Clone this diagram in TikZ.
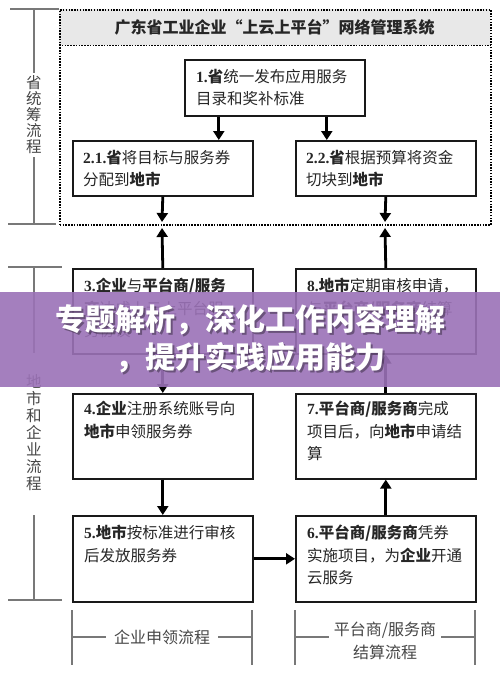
\documentclass[tikz,border=0pt]{standalone}
\usepackage{fontspec}
\setmainfont{Noto Sans CJK SC}
\newfontfamily\numf{Liberation Serif}
\usetikzlibrary{arrows.meta}
\definecolor{brkc}{RGB}{120,120,120}
\definecolor{lblc}{RGB}{70,70,70}
\definecolor{hdrc}{RGB}{232,232,232}
\definecolor{bandc}{RGB}{155,114,183}
\newcommand{\nm}[1]{{\numf\bfseries #1}}
\newcommand{\hb}[1]{{\bfseries #1}}
\tikzset{
 box/.style={draw=black!90, line width=1.6pt, minimum width=180pt, inner sep=0pt, anchor=north west},
 btxt/.style={anchor=north west, inner sep=0pt, align=left, font=\fontsize{15.5}{22.5}\selectfont, text=black!85},
 arr/.style={line width=2.8pt, -{Triangle[width=11pt,length=9pt]}},
 brk/.style={draw=brkc, line width=1.2pt},
 vlbl/.style={text=lblc, align=center, font=\fontsize{15.5}{16}\selectfont, inner sep=0pt},
 dotl/.style={line width=1.6pt, dash pattern=on 1.5pt off 1.3pt},
}
\begin{document}
\begin{tikzpicture}[x=1pt,y=-1pt]
\useasboundingbox (0,0) rectangle (500,681);
\fill[white] (0,0) rectangle (500,681);
% header
\node[fill=hdrc, minimum width=431pt, minimum height=36pt, anchor=north west, inner sep=0pt] (hdr) at (59,9) {};
\node[font=\fontsize{16}{18}\selectfont\bfseries, text=black!85] (title) at (hdr.center) {广东省工业企业“上云上平台”网络管理系统};
\draw[dotl] (hdr.south west) -- (hdr.south east);
\node[draw, dotl, minimum width=431pt, minimum height=215pt, anchor=north west, inner sep=0pt] (outer) at (59,9) {};
% boxes
\node[box, minimum height=56pt] (b1) at (184,59) {};
\node[box, minimum height=55pt] (b21) at (72,140) {};
\node[box, minimum height=55pt] (b22) at (295,140) {};
\node[box, minimum height=85pt] (b3) at (72,268) {};
\node[box, minimum height=85pt] (b8) at (295,268) {};
\node[box, minimum height=85pt] (b4) at (72,393) {};
\node[box, minimum height=85pt] (b7) at (295,393) {};
\node[box, minimum height=86pt] (b5) at (72,515) {};
\node[box, minimum height=86pt] (b6) at (295,515) {};
% texts
\node[btxt] (t1) at ([shift={(12,10)}]b1.north west) {\nm{1.}\hb{省}统一发布应用服务\\目录和奖补标准};
\node[btxt] (t21) at ([shift={(11,10)}]b21.north west) {\nm{2.1.}\hb{省}将目标与服务券\\分配到\hb{地市}};
\node[btxt] (t22) at ([shift={(11,10)}]b22.north west) {\nm{2.2.}\hb{省}根据预算将资金\\切块到\hb{地市}};
\node[btxt] (t3) at ([shift={(12,10)}]b3.north west) {\nm{3.}\hb{企业}与\hb{平台商/服务}\\\hb{商}达成上云上平台服\\务协议};
\node[btxt] (t8) at ([shift={(12,10)}]b8.north west) {\nm{8.}\hb{地市}定期审核申请，\\与\hb{平台商/服务商}结算};
\node[btxt] (t4) at ([shift={(12,8)}]b4.north west) {\nm{4.}\hb{企业}注册系统账号向\\\hb{地市}申领服务券};
\node[btxt] (t7) at ([shift={(12,8)}]b7.north west) {\nm{7.}\hb{平台商/服务商}完成\\项目后，向\hb{地市}申请结\\算};
\node[btxt] (t5) at ([shift={(12,10)}]b5.north west) {\nm{5.}\hb{地市}按标准进行审核\\后发放服务券};
\node[btxt] (t6) at ([shift={(12,10)}]b6.north west) {\nm{6.}\hb{平台商/服务商}凭券\\实施项目，为\hb{企业}开通\\云服务};
% connectors
\coordinate (j1) at (162,222);
\coordinate (j2) at (385,222);
\coordinate (k1) at (162,228);
\coordinate (k2) at (385,228);
\draw[arr] ([xshift=-56pt]b1.south) -- ([xshift=-56pt]b1.south |- b21.north);
\draw[arr] ([xshift=52pt]b1.south) -- ([xshift=52pt]b1.south |- b22.north);
\draw[arr] (b21.south) -- (j1);
\draw[arr] (b22.south) -- (j2);
\draw[arr] (b3.north) -- (k1);
\draw[arr] (b8.north) -- (k2);
\draw[arr] (b3.south) -- (b4.north);
\draw[arr] (b4.south) -- (b5.north);
\draw[arr] (b5.east) -- (b6.west);
\draw[arr] (b6.north) -- (b7.south);
\draw[arr] (b7.north) -- (b8.south);
% left brackets
\draw[brk] (10,9) -- (59,9);
\draw[brk] (34,9) -- (34,224);
\draw[brk] (8,224) -- (56,224);
\node[vlbl, fill=white, inner ysep=3pt] (l1) at (34,115) {省\\统\\筹\\流\\程};
\draw[brk] (8,267) -- (62,267);
\draw[brk] (34,267) -- (34,353);
\node[vlbl, font=\fontsize{15.5}{17}\selectfont] (l2) at (34,433) {地\\市\\和\\企\\业\\流\\程};
\draw[brk] (34,515) -- (34,600);
\draw[brk] (8,600) -- (62,600);
% bottom brackets
\draw[brk] (72,610) -- (72,665);
\draw[brk] (252,610) -- (252,665);
\draw[brk] (72,637) -- (252,637);
\node[fill=white, text=lblc, font=\fontsize{16}{18}\selectfont, inner xsep=8pt, inner ysep=2pt] (l3) at (162,637) {企业申领流程};
\draw[brk] (295,610) -- (295,665);
\draw[brk] (475,610) -- (475,665);
\draw[brk] (295,637) -- (475,637);
\node[fill=white, text=lblc, align=center, font=\fontsize{16}{23}\selectfont, inner xsep=5pt, inner ysep=1pt] (l4) at (385,641) {平台商/服务商\\结算流程};
% overlay band
\fill[bandc, opacity=0.9] (0,292) rectangle (500,387);
\node[font=\fontsize{30}{38}\selectfont\bfseries, text=black, opacity=0.35, align=center] (ovs) at (252.5,340.5) {专题解析，深化工作内容理解\\，提升实践应用能力};
\node[font=\fontsize{30}{38}\selectfont\bfseries, text=white, align=center] (ov) at (251,339) {专题解析，深化工作内容理解\\，提升实践应用能力};
\end{tikzpicture}
\end{document}
